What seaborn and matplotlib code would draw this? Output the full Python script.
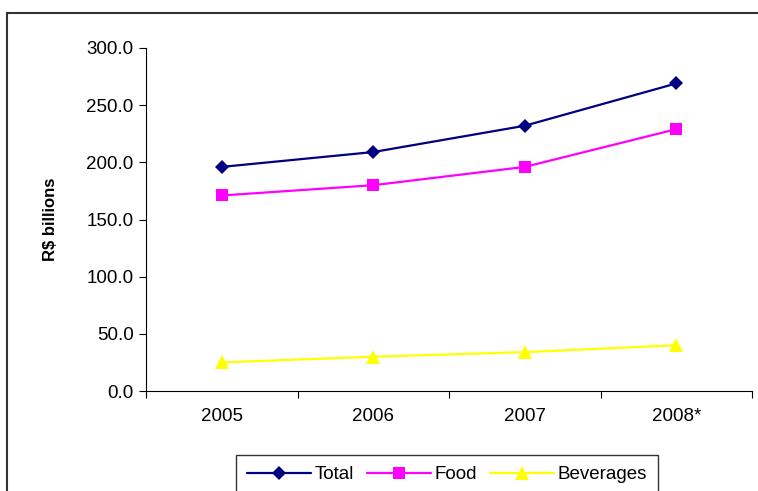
import pandas as pd
import matplotlib.pyplot as plt
import seaborn as sns
from matplotlib.patches import Rectangle
from matplotlib.ticker import FormatStrFormatter, FixedLocator

# Dados
years = ['2005', '2006', '2007', '2008*']
total = [196.0, 209.0, 232.0, 269.0]
food = [171.0, 180.0, 196.0, 229.0]
beverages = [25.0, 30.0, 34.0, 40.0]

df = pd.DataFrame({
    'Year': years * 3,
    'Value': total + food + beverages,
    'Series': ['Total'] * 4 + ['Food'] * 4 + ['Beverages'] * 4,
})

sns.set_style('white')
plt.rcParams['font.family'] = ['Liberation Sans', 'DejaVu Sans']
plt.rcParams['text.color'] = 'black'
plt.rcParams['xtick.color'] = 'black'
plt.rcParams['ytick.color'] = 'black'
plt.rcParams['axes.labelcolor'] = 'black'

fig = plt.figure(figsize=(7.58, 4.91), dpi=100)
ax = fig.add_axes([146 / 758, 1 - 391 / 491, 606 / 758, 343 / 491])

colors = {'Total': '#000080', 'Food': '#ff00ff', 'Beverages': '#ffff00'}
markers = {'Total': 'D', 'Food': 's', 'Beverages': '^'}
sizes = {'Total': 7, 'Food': 8, 'Beverages': 10}

for name in ['Total', 'Food', 'Beverages']:
    sub = df[df['Series'] == name]
    sns.lineplot(data=sub, x='Year', y='Value', ax=ax, color=colors[name],
                 marker=markers[name], markersize=sizes[name], markeredgewidth=0,
                 linewidth=1.6, label=name, legend=False)

# Eixos
ax.set_ylim(0, 300)
ax.set_xlim(-0.5, 3.5)
ax.set_yticks([0, 50, 100, 150, 200, 250, 300])
ax.yaxis.set_major_formatter(FormatStrFormatter('%.1f'))
ax.xaxis.set_major_locator(FixedLocator([-0.5, 0.5, 1.5, 2.5, 3.5]))
ax.set_xticklabels([])
ax.set_xticks(range(len(years)), minor=True)
ax.set_xticklabels(years, minor=True)
ax.tick_params(axis='x', which='minor', length=0, pad=12, labelsize=13.5)
ax.tick_params(axis='x', which='major', length=5, width=0.8, direction='out', bottom=True)
ax.tick_params(axis='y', length=5, width=0.8, direction='out', left=True, labelsize=13.5, pad=4)
ax.set_xlabel('')
ax.set_ylabel('R$ billions', fontsize=12, fontweight='bold', labelpad=20)
for s in ['top', 'right']:
    ax.spines[s].set_visible(False)
for s in ['left', 'bottom']:
    ax.spines[s].set_color('black')
    ax.spines[s].set_linewidth(0.8)

# Moldura
fig.patches.append(Rectangle((7 / 758, -0.2), 1.2, 1.2 - 13 / 491,
                             transform=fig.transFigure, fill=False,
                             edgecolor='#333333', linewidth=1.5))

handles, labels = ax.get_legend_handles_labels()
fig.legend(handles, labels, loc='upper center', bbox_to_anchor=(447 / 758, 1 - 455 / 491),
           ncol=3, frameon=True, fancybox=False, edgecolor='black', fontsize=13.5,
           handlelength=3.4, handletextpad=0.2, columnspacing=0.7, borderpad=0.6,
           borderaxespad=0)

fig.savefig('out.png', dpi=100)
